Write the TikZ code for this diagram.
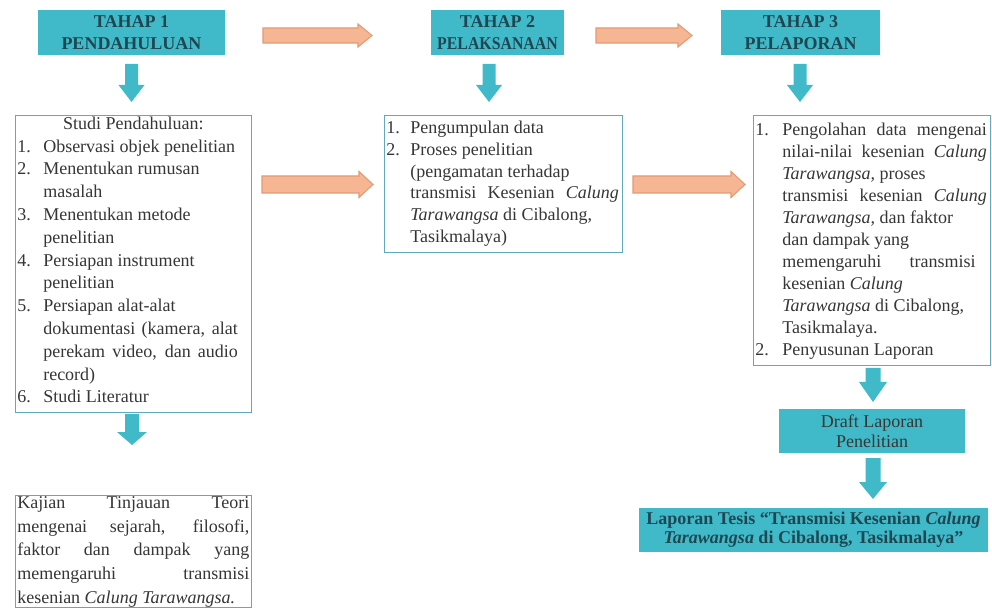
\documentclass[tikz,border=0pt]{standalone}
\usepackage{graphicx}
\usepackage{fontspec}
\setmainfont{Liberation Serif}
\definecolor{tealfill}{HTML}{40BAC9}
\definecolor{hdrtxt}{HTML}{1E4752}
\definecolor{boxline}{HTML}{62AABB}
\definecolor{orfill}{HTML}{F6B593}
\definecolor{ordraw}{HTML}{E39B74}
\definecolor{bodytxt}{HTML}{363636}
\def\PX{0.75pt}
\newcommand\DownBlk[6]{\fill[tealfill] (#1-#4,#2) -- (#1+#4,#2) -- (#1+#4,#3-#6) -- (#1+#5,#3-#6) -- (#1,#3) -- (#1-#5,#3-#6) -- (#1-#4,#3-#6) -- cycle;}
\newcommand\RightBlk[6]{\filldraw[fill=orfill,draw=ordraw,line width=0.8pt,line join=miter] (#1,#3-#4) -- (#2-#6,#3-#4) -- (#2-#6,#3-#5) -- (#2,#3) -- (#2-#6,#3+#5) -- (#2-#6,#3+#4) -- (#1,#3+#4) -- cycle;}
\newcommand\itm[2]{\makebox[#1][l]{#2}}
\newcommand\jl[2]{\makebox[#1][s]{#2}}
\newcommand\fr{\rule{0pt}{10pt}}
\tikzset{
  hdr/.style={fill=tealfill, draw=none, text=hdrtxt, align=center, inner sep=0pt,
    font=\bfseries\fontsize{13.5}{16.5}\selectfont},
  listbox/.style={draw=boxline, line width=0.8pt, fill=white, inner sep=0pt, anchor=north west},
  body/.style={text=bodytxt, inner sep=0pt, anchor=north west, align=left},
}
\begin{document}
\begin{tikzpicture}[x=0.75pt,y=-0.75pt]
\fill[white] (0,0) rectangle (992,609);
\useasboundingbox (0,0) rectangle (992,609);

% header boxes
\node[hdr, minimum width=187*\PX, minimum height=45*\PX] (h1) at (131.5,32.5) {TAHAP 1\\PENDAHULUAN};
\node[hdr, minimum width=133*\PX, minimum height=45*\PX] (h2) at (497.5,32.5) {TAHAP 2\\\scalebox{0.88}[1]{PELAKSANAAN}};
\node[hdr, minimum width=159*\PX, minimum height=45*\PX] (h3) at (800.5,32.5) {TAHAP 3\\PELAPORAN};

% orange arrows
\RightBlk{263}{372}{35.5}{7.5}{11.5}{14}
\RightBlk{596}{692}{35.5}{7.5}{11.5}{14}
\RightBlk{262}{373}{184.5}{8.5}{13}{14}
\RightBlk{633}{745}{184.5}{8.5}{13}{14}

% teal down arrows
\DownBlk{131.5}{64}{102}{6.5}{13}{17}
\DownBlk{489}{64}{102}{6.5}{13}{17}
\DownBlk{800}{64}{102}{6.5}{13}{17}
\DownBlk{132}{414}{445}{7}{15}{13}
\DownBlk{873}{368}{402}{7.5}{14}{20}
\DownBlk{873}{458}{499}{7.5}{14}{17}

% box 1
\node[listbox, minimum width=236*\PX, minimum height=297*\PX] (b1) at (15,115) {};
\node[body, font=\fontsize{13.5}{17.1}\selectfont] (t1) at (17,115.7) {%
\fr\makebox[174pt][c]{Studi Pendahuluan:}\\
\itm{19.5pt}{1.}Observasi objek penelitian\\
\itm{19.5pt}{2.}Menentukan rumusan\\
\itm{19.5pt}{}masalah\\
\itm{19.5pt}{3.}Menentukan metode\\
\itm{19.5pt}{}penelitian\\
\itm{19.5pt}{4.}Persiapan instrument\\
\itm{19.5pt}{}penelitian\\
\itm{19.5pt}{5.}Persiapan alat-alat\\
\itm{19.5pt}{}\jl{146pt}{dokumentasi (kamera, alat}\\
\itm{19.5pt}{}\jl{146pt}{perekam video, dan audio}\\
\itm{19.5pt}{}record)\\
\itm{19.5pt}{6.}Studi Literatur};

% box Kajian
\node[listbox, minimum width=236*\PX, minimum height=112*\PX] (b4) at (15,495) {};
\node[body, font=\fontsize{13.5}{17.8}\selectfont] (t4) at (17,494.7) {%
\fr\jl{174pt}{Kajian Tinjauan Teori}\\
\jl{174pt}{mengenai sejarah, filosofi,}\\
\jl{174pt}{faktor dan dampak yang}\\
\jl{174pt}{memengaruhi transmisi}\\
kesenian \textit{Calung Tarawangsa.}};

% box 2
\node[listbox, minimum width=238*\PX, minimum height=137*\PX] (b2) at (384,115) {};
\node[body, font=\fontsize{13.5}{16.4}\selectfont] (t2) at (386,119.7) {%
\fr\itm{18pt}{1.}Pengumpulan data\\
\itm{18pt}{2.}Proses penelitian\\
\itm{18pt}{}(pengamatan terhadap\\
\itm{18pt}{}\jl{156.5pt}{transmisi Kesenian \textit{Calung}}\\
\itm{18pt}{}\textit{Tarawangsa} di Cibalong,\\
\itm{18pt}{}Tasikmalaya)};

% box 3
\node[listbox, minimum width=237*\PX, minimum height=250*\PX] (b3) at (753,115) {};
\node[body, font=\fontsize{13.5}{16.5}\selectfont] (t3) at (755,121.7) {%
\fr\itm{20.25pt}{1.}\jl{153.5pt}{Pengolahan data mengenai}\\
\itm{20.25pt}{}\jl{153.5pt}{nilai-nilai kesenian \textit{Calung}}\\
\itm{20.25pt}{}\textit{Tarawangsa,} proses\\
\itm{20.25pt}{}\jl{153.5pt}{transmisi kesenian \textit{Calung}}\\
\itm{20.25pt}{}\textit{Tarawangsa,} dan faktor\\
\itm{20.25pt}{}dan dampak yang\\
\itm{20.25pt}{}\jl{145pt}{memengaruhi transmisi}\\
\itm{20.25pt}{}kesenian \textit{Calung}\\
\itm{20.25pt}{}\textit{Tarawangsa} di Cibalong,\\
\itm{20.25pt}{}Tasikmalaya.\\
\itm{20.25pt}{2.}Penyusunan Laporan};

% draft box
\node[fill=tealfill, text=bodytxt, align=center, inner sep=0pt,
  minimum width=186*\PX, minimum height=44*\PX,
  font=\fontsize{13.5}{15}\selectfont] (d1) at (872,431) {Draft Laporan\\Penelitian};

% final box
\node[fill=tealfill, text=hdrtxt, align=center, inner sep=0pt,
  minimum width=349*\PX, minimum height=44*\PX,
  font=\bfseries\fontsize{13.5}{14.3}\selectfont] (f1) at (813.5,530) {Laporan Tesis “Transmisi Kesenian \textit{Calung}\\\textit{Tarawangsa} di Cibalong, Tasikmalaya”};
\end{tikzpicture}
\end{document}
